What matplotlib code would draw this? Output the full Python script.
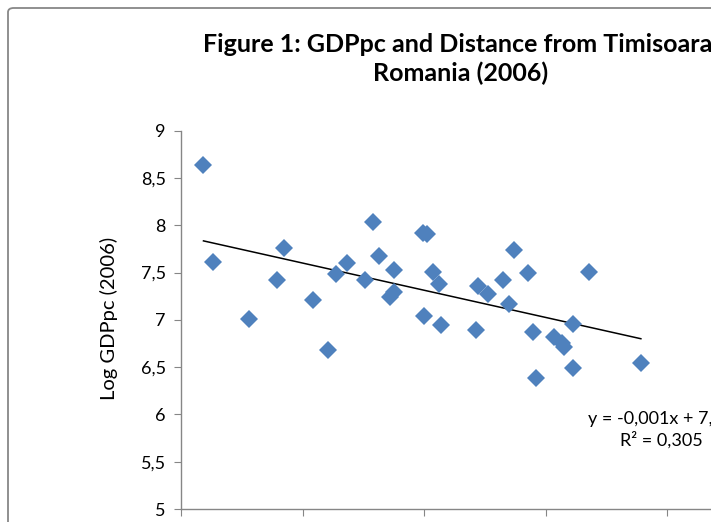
import numpy as np
import matplotlib
matplotlib.use("Agg")
import matplotlib.pyplot as plt
from matplotlib.patches import FancyBboxPatch

# Data (distance from Timisoara, log GDP per capita 2006)
distance = [37, 53, 112, 158, 170, 217, 242, 255, 273, 303, 316, 326, 344, 351, 351,
            398, 405, 400, 415, 425, 428, 486, 489, 505, 530, 540, 548, 571, 579, 584,
            614, 627, 630, 645, 645, 672, 757]
log_gdppc = [8.64, 7.615, 7.01, 7.425, 7.76, 7.21, 6.68, 7.49, 7.60, 7.425, 8.03, 7.68,
             7.245, 7.29, 7.53, 7.92, 7.91, 7.045, 7.51, 7.38, 6.95, 6.89, 7.36, 7.27,
             7.425, 7.17, 7.74, 7.50, 6.87, 6.38, 6.82, 6.75, 6.71, 6.96, 6.49, 7.51, 6.54]
y_ticks = [5, 5.5, 6, 6.5, 7, 7.5, 8, 8.5, 9]
y_tick_labels = ["5", "5,5", "6", "6,5", "7", "7,5", "8", "8,5", "9"]
x_ticks = [0, 200, 400, 600, 800, 1000]
title = "Figure 1: GDPpc and Distance from Timisoara,\nRomania (2006)"
ylabel = "Log GDPpc (2006)"
eq_text = "y = -0,001x + 7,88\nR² = 0,305"

plt.rcParams['font.family'] = ['Lato', 'DejaVu Sans']

W, H = 711, 522
fig = plt.figure(figsize=(W / 100, H / 100), dpi=100)
fig.patch.set_facecolor("white")

# chart-area border (Excel style)
border = FancyBboxPatch((8 / W, -0.2), 1.2, 1 - 8 / H + 0.2,
                        boxstyle="round,pad=0,rounding_size=0.008",
                        transform=fig.transFigure, fill=False,
                        edgecolor="#878787", linewidth=1.3)
fig.patches.append(border)

left, bottom, top = 181, 509, 130.7
ax = fig.add_axes([left / W, (H - bottom) / H, 607.5 / W, (bottom - top) / H])
ax.set_facecolor("none")

x = np.array(distance, dtype=float)
y = np.array(log_gdppc, dtype=float)
ax.plot(x, y, linestyle="none", marker="D", markersize=9.5,
        color="#4F81BD", markeredgewidth=0, zorder=3)

coef = np.polyfit(x, y, 1)
xs = np.array([x.min(), x.max()])
ax.plot(xs, np.polyval(coef, xs), color="black", linewidth=1.1, zorder=2)

ax.set_xlim(0, 1000)
ax.set_ylim(5, 9)
ax.set_xticks(x_ticks)
ax.set_xticklabels([])
ax.set_yticks(y_ticks)
ax.set_yticklabels(y_tick_labels)
for s in ["top", "right"]:
    ax.spines[s].set_visible(False)
for s in ["left", "bottom"]:
    ax.spines[s].set_color("#868686")
    ax.spines[s].set_linewidth(1.0)
ax.tick_params(axis="both", direction="out", length=5, color="#868686",
               labelsize=13, labelcolor="black", pad=6)

fig.text(109 / W, 1 - 318 / H, ylabel, rotation=90, ha="center", va="center",
         fontsize=14.5)
fig.text(461 / W, 1 - 59 / H, title, ha="center", va="center",
         fontsize=18, fontweight="bold", linespacing=1.25)
fig.text(661 / W, 1 - 430 / H, eq_text, ha="center", va="center",
         fontsize=13, linespacing=1.3)

fig.savefig("out.png", dpi=100)
